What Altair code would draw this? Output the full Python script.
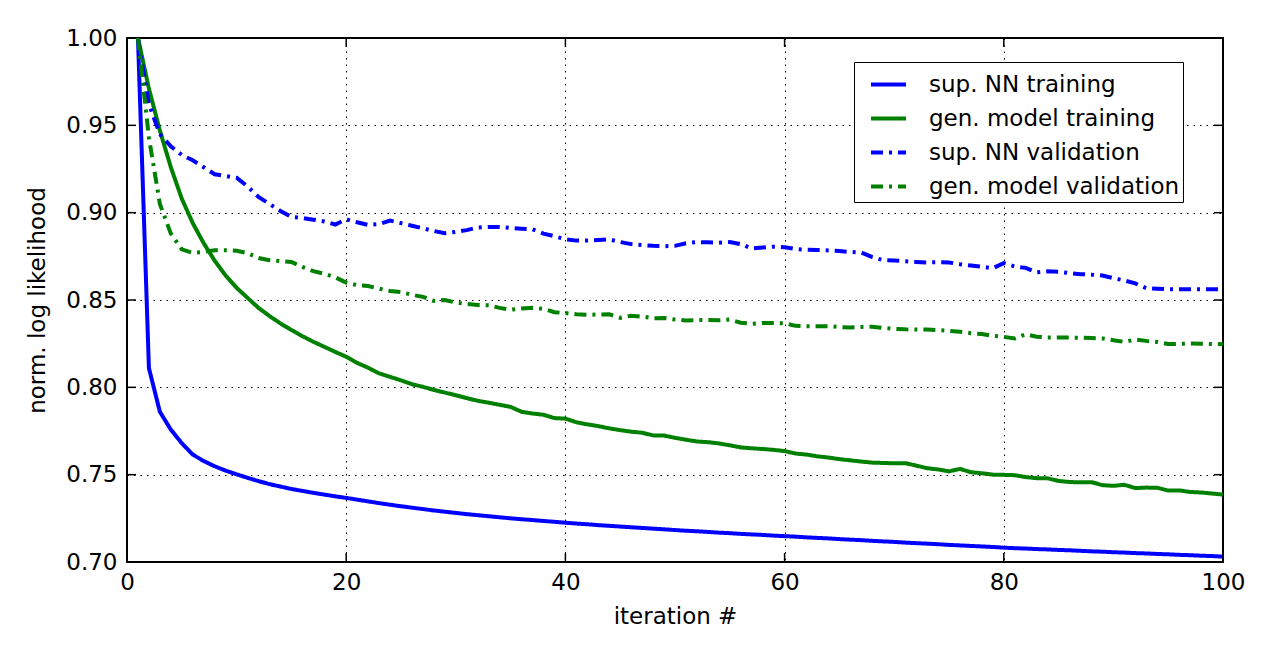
import altair as alt
import pandas as pd

# ---------------- data ----------------
iterations = list(range(1, 101))

sup_nn_training = [
    1.000, 0.811, 0.786, 0.7758, 0.768, 0.7615, 0.7578, 0.7548, 0.7523, 0.7502,
    0.7482, 0.7463, 0.7446, 0.7432, 0.7418, 0.7407, 0.7396, 0.7386, 0.7376, 0.7367,
    0.7357, 0.7347, 0.7337, 0.7328, 0.7319, 0.7311, 0.7303, 0.7295, 0.7288, 0.7281,
    0.7274, 0.7268, 0.7262, 0.7256, 0.7250, 0.7245, 0.7240, 0.7235, 0.7230, 0.7225,
    0.7220, 0.7216, 0.7211, 0.7207, 0.7203, 0.7199, 0.7195, 0.7191, 0.7187, 0.7183,
    0.7179, 0.7176, 0.7172, 0.7168, 0.7165, 0.7161, 0.7158, 0.7155, 0.7151, 0.7148,
    0.7145, 0.7141, 0.7138, 0.7135, 0.7131, 0.7128, 0.7125, 0.7121, 0.7118, 0.7115,
    0.7111, 0.7108, 0.7105, 0.7102, 0.7098, 0.7095, 0.7092, 0.7089, 0.7086, 0.7082,
    0.7079, 0.7077, 0.7074, 0.7072, 0.7069, 0.7067, 0.7064, 0.7061, 0.7059, 0.7056,
    0.7054, 0.7051, 0.7049, 0.7046, 0.7044, 0.7041, 0.7039, 0.7036, 0.7034, 0.7031,
]

gen_model_training = [
    1.000, 0.971, 0.947, 0.926, 0.908, 0.894, 0.8825, 0.8725, 0.864, 0.857,
    0.8512, 0.8455, 0.8408, 0.8366, 0.8328, 0.8293, 0.8261, 0.8232, 0.8203, 0.8175,
    0.8140, 0.8112, 0.8080, 0.8060, 0.8040, 0.8018, 0.8003, 0.7985, 0.7970, 0.7955,
    0.7938, 0.7923, 0.7912, 0.7900, 0.7888, 0.7860, 0.7850, 0.7843, 0.7824, 0.7821,
    0.7800, 0.7788, 0.7778, 0.7765, 0.7755, 0.7746, 0.7740, 0.7725, 0.7724, 0.7711,
    0.7700, 0.7690, 0.7686, 0.7679, 0.7668, 0.7656, 0.7651, 0.7647, 0.7642, 0.7635,
    0.7621, 0.7615, 0.7605, 0.7598, 0.7589, 0.7582, 0.7575, 0.7569, 0.7567, 0.7565,
    0.7566, 0.7552, 0.7537, 0.7530, 0.7519, 0.7533, 0.7514, 0.7508, 0.7500, 0.7499,
    0.7497, 0.7486, 0.7480, 0.7479, 0.7464, 0.7458, 0.7456, 0.7457, 0.7440, 0.7436,
    0.7442, 0.7423, 0.7426, 0.7425, 0.7409, 0.7410, 0.7401, 0.7398, 0.7392, 0.7386,
]

sup_nn_validation = [
    1.000, 0.962, 0.945, 0.938, 0.933, 0.930, 0.926, 0.922, 0.921, 0.920,
    0.915, 0.909, 0.905, 0.901, 0.8975, 0.8970, 0.8960, 0.8950, 0.8932, 0.8962,
    0.8945, 0.8930, 0.8935, 0.8955, 0.8940, 0.8925, 0.8910, 0.8895, 0.8882, 0.8890,
    0.8900, 0.8915, 0.8918, 0.8918, 0.8912, 0.8908, 0.8905, 0.8880, 0.8865, 0.8848,
    0.8840, 0.8840, 0.8843, 0.8847, 0.8832, 0.8820, 0.8815, 0.8810, 0.8808, 0.8810,
    0.8825, 0.8832, 0.8830, 0.8828, 0.8832, 0.8820, 0.8795, 0.8800, 0.8805, 0.8802,
    0.8792, 0.8788, 0.8786, 0.8784, 0.8780, 0.8775, 0.8772, 0.8745, 0.8728, 0.8726,
    0.8722, 0.8718, 0.8715, 0.8716, 0.8715, 0.8705, 0.8697, 0.8690, 0.8682, 0.8711,
    0.8692, 0.8684, 0.8658, 0.8664, 0.8662, 0.8654, 0.8648, 0.8645, 0.8640, 0.8625,
    0.8612, 0.8595, 0.8568, 0.8565, 0.8561, 0.8561, 0.8561, 0.8561, 0.8561, 0.8561,
]

gen_model_validation = [
    1.000, 0.943, 0.905, 0.888, 0.879, 0.877, 0.8775, 0.8785, 0.8785, 0.8782,
    0.8768, 0.8740, 0.8728, 0.8722, 0.8718, 0.8690, 0.8665, 0.8650, 0.8630, 0.8600,
    0.8585, 0.8580, 0.8565, 0.8552, 0.8545, 0.8530, 0.8518, 0.8495, 0.8500, 0.8485,
    0.8477, 0.8472, 0.8470, 0.8455, 0.8444, 0.8452, 0.8455, 0.8450, 0.8430, 0.8425,
    0.8418, 0.8415, 0.8417, 0.8418, 0.8398, 0.8410, 0.8405, 0.8396, 0.8397, 0.8388,
    0.8383, 0.8385, 0.8385, 0.8384, 0.8388, 0.8370, 0.8364, 0.8368, 0.8368, 0.8366,
    0.8352, 0.8350, 0.8350, 0.8350, 0.8345, 0.8343, 0.8346, 0.8347, 0.8340, 0.8335,
    0.8332, 0.8331, 0.8331, 0.8328, 0.8323, 0.8318, 0.8310, 0.8305, 0.8295, 0.8289,
    0.8280, 0.8304, 0.8290, 0.8285, 0.8286, 0.8285, 0.8284, 0.8282, 0.8280, 0.8270,
    0.8260, 0.8274, 0.8266, 0.8260, 0.8248, 0.8249, 0.8251, 0.8250, 0.8248, 0.8247,
]

series_names = ["sup. NN training", "gen. model training",
                "sup. NN validation", "gen. model validation"]
series_colors = ["#0000ff", "#008000", "#0000ff", "#008000"]
x_ticks = [0, 20, 40, 60, 80, 100]
y_ticks = [0.70, 0.75, 0.80, 0.85, 0.90, 0.95, 1.00]

# ---------------- build long table ----------------
rows = []
for name, vals in zip(series_names, [sup_nn_training, gen_model_training,
                                     sup_nn_validation, gen_model_validation]):
    for it, v in zip(iterations, vals):
        rows.append({"iteration": it, "value": v, "series": name})
df = pd.DataFrame(rows)

W, H = 1096, 524
FONT = "DejaVu Sans"
FS = 23

x_scale = alt.Scale(domain=[0, 100], nice=False, zero=False)
y_scale = alt.Scale(domain=[0.70, 1.00], nice=False, zero=False)

solid = [1, 0]
dashdot = [12, 6, 3, 6]

lines = alt.Chart(df).mark_line(strokeWidth=4, clip=True).encode(
    x=alt.X("iteration:Q", scale=x_scale,
            axis=alt.Axis(values=x_ticks, format="d", title="iteration #",
                          grid=True, gridDash=[1.5, 5], gridColor="black",
                          gridWidth=1, gridOpacity=1, ticks=False, domain=False,
                          labelFlush=False, labelPadding=9, titlePadding=11)),
    y=alt.Y("value:Q", scale=y_scale,
            axis=alt.Axis(values=y_ticks, format=".2f",
                          title="norm. log likelihood",
                          grid=True, gridDash=[1.5, 5], gridColor="black",
                          gridWidth=1, gridOpacity=1, ticks=False, domain=False,
                          labelPadding=10, titlePadding=16)),
    color=alt.Color("series:N",
                    scale=alt.Scale(domain=series_names, range=series_colors),
                    legend=alt.Legend(title=None, orient="none",
                                      legendX=727, legendY=24,
                                      symbolType="stroke", symbolSize=1225,
                                      symbolStrokeWidth=4, symbolOffset=12,
                                      labelOffset=21, labelFont=FONT,
                                      labelFontSize=FS, labelColor="black",
                                      strokeColor="black", fillColor="white",
                                      padding=3, rowPadding=2, labelLimit=400)),
    strokeDash=alt.StrokeDash("series:N",
                              scale=alt.Scale(domain=series_names,
                                              range=[solid, solid, dashdot, dashdot]),
                              legend=None),
    order=alt.Order("series:N"),
)

# inward ticks on all four sides
xt = pd.DataFrame({"t": x_ticks})
yt = pd.DataFrame({"t": y_ticks})
TL = 9
tick_bottom = alt.Chart(xt).mark_rule(color="black", strokeWidth=1.5).encode(
    x=alt.X("t:Q", scale=x_scale), y=alt.value(H), y2=alt.value(H - TL))
tick_top = alt.Chart(xt).mark_rule(color="black", strokeWidth=1.5).encode(
    x=alt.X("t:Q", scale=x_scale), y=alt.value(0), y2=alt.value(TL))
tick_left = alt.Chart(yt).mark_rule(color="black", strokeWidth=1.5).encode(
    y=alt.Y("t:Q", scale=y_scale), x=alt.value(0), x2=alt.value(TL))
tick_right = alt.Chart(yt).mark_rule(color="black", strokeWidth=1.5).encode(
    y=alt.Y("t:Q", scale=y_scale), x=alt.value(W), x2=alt.value(W - TL))

chart = alt.layer(lines, tick_bottom, tick_top, tick_left, tick_right).properties(
    width=W, height=H,
    autosize="none",
    padding={"left": 127, "top": 38, "right": 52, "bottom": 95},
    background="white",
).configure_view(
    stroke="black", strokeWidth=2, fill="white"
).configure_axis(
    labelFont=FONT, labelFontSize=FS, labelColor="black",
    titleFont=FONT, titleFontSize=FS, titleFontWeight="normal", titleColor="black",
)

chart.save("out.html", embed_options={"renderer": "svg", "actions": False})
